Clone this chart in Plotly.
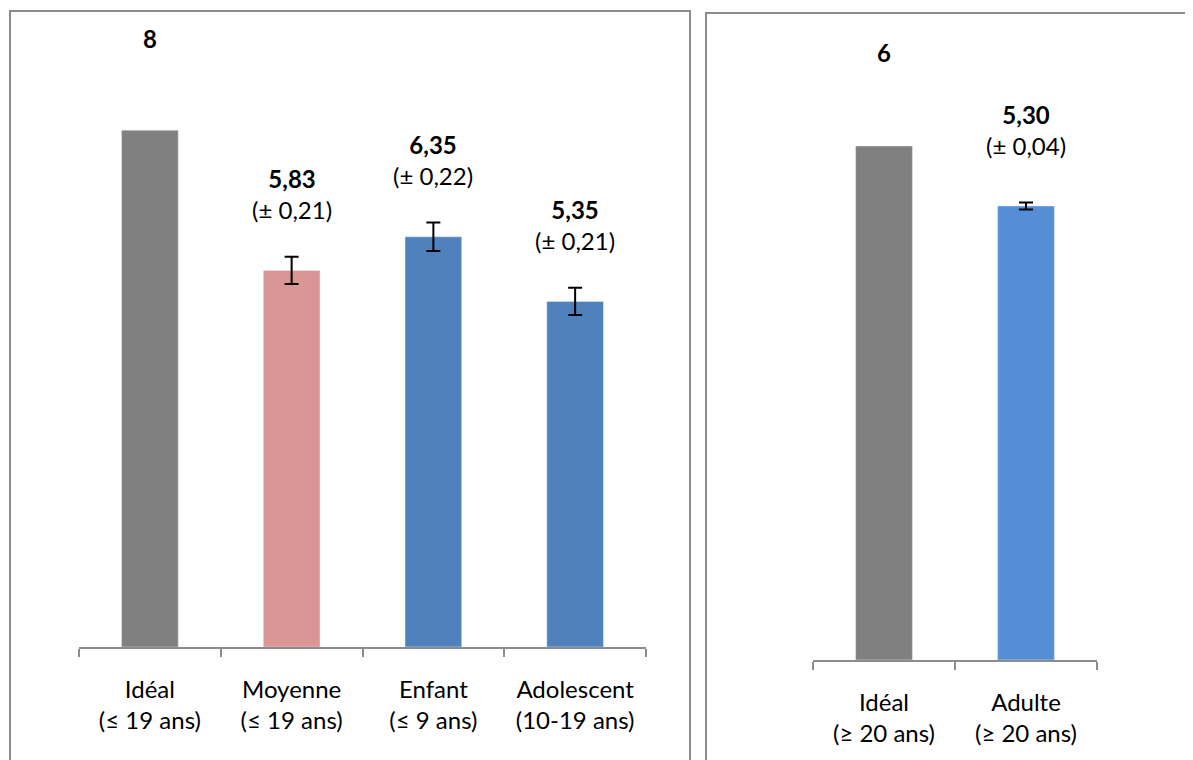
import plotly.graph_objects as go

# ---- data ----
left_categories = ["Idéal<br>(≤ 19 ans)", "Moyenne<br>(≤ 19 ans)", "Enfant<br>(≤ 9 ans)", "Adolescent<br>(10-19 ans)"]
left_values = [8, 5.83, 6.35, 5.35]
left_errors = [0, 0.21, 0.22, 0.21]
left_value_labels = ["8", "5,83", "6,35", "5,35"]
left_error_labels = ["", "(± 0,21)", "(± 0,22)", "(± 0,21)"]
left_colors = ["#808080", "#D99694", "#4F81BD", "#4F81BD"]

right_categories = ["Idéal<br>(≥ 20 ans)", "Adulte<br>(≥ 20 ans)"]
right_values = [6, 5.30]
right_errors = [0, 0.04]
right_value_labels = ["6", "5,30"]
right_error_labels = ["", "(± 0,04)"]
right_colors = ["#808080", "#558ED5"]

FONT = "Lato"
W, H = 1193, 760
OFF = 8  # page body margin: figure origin sits at (8, 8) in the page

def px_x(p):
    return (p - OFF) / W

def px_y(p):
    return (H - (p - OFF)) / H

fig = go.Figure()

def add_bars(cats, vals, errs, colors, xa, ya):
    for c, v, e, col in zip(cats, vals, errs, colors):
        err = dict(type="data", array=[e], color="black", thickness=2, width=7, visible=e > 0)
        fig.add_trace(go.Bar(
            x=[c], y=[v], marker_color=col, width=0.40, error_y=err,
            xaxis=xa, yaxis=ya, showlegend=False,
        ))

add_bars(left_categories, left_values, left_errors, left_colors, "x", "y")
add_bars(right_categories, right_values, right_errors, right_colors, "x2", "y2")

annotations = []
def add_labels(cats, vals, errs, vlabels, elabels, yref, shift_single, shift_double):
    for c, v, e, vl, el in zip(cats, vals, errs, vlabels, elabels):
        if el:
            txt = f"<b>{vl}</b><br>{el}"
            ys = shift_double
        else:
            txt = f"<b>{vl}</b>"
            ys = shift_single
        annotations.append(dict(
            x=c, y=v + e, xref=yref.replace("y", "x"), yref=yref, text=txt,
            showarrow=False, yanchor="middle", xanchor="center", yshift=ys,
            font=dict(family=FONT, size=24, color="black"),
        ))

add_labels(left_categories, left_values, left_errors, left_value_labels, left_error_labels, "y", 92, 63)
add_labels(right_categories, right_values, right_errors, right_value_labels, right_error_labels, "y2", 93, 73)

axis_common = dict(
    showline=True, linecolor="#8C8C8C", linewidth=2,
    ticks="outside", tickson="boundaries", ticklen=8, tickwidth=2, tickcolor="#8C8C8C",
    showgrid=False, zeroline=False, fixedrange=True, ticklabelstandoff=20,
    tickfont=dict(family=FONT, size=24, color="black"),
)

base_l, base_r = 647, 660
fig.update_layout(
    width=W, height=H,
    margin=dict(l=0, r=0, t=0, b=0),
    paper_bgcolor="white", plot_bgcolor="white",
    barmode="overlay",
    xaxis=dict(domain=[px_x(79), px_x(646)], range=[-0.5, 3.5], anchor="y", **axis_common),
    yaxis=dict(domain=[px_y(base_l), 1], range=[0, (base_l - OFF) / 64.6], visible=False, fixedrange=True),
    xaxis2=dict(domain=[px_x(813), px_x(1097)], range=[-0.5, 1.5], anchor="y2", **axis_common),
    yaxis2=dict(domain=[px_y(base_r), 1], range=[0, (base_r - OFF) / 85.67], visible=False, fixedrange=True),
    annotations=annotations,
    shapes=[
        dict(type="rect", xref="paper", yref="paper",
             x0=px_x(10), x1=px_x(690), y0=-0.05, y1=px_y(11),
             line=dict(color="#8C8C8C", width=2), fillcolor="rgba(0,0,0,0)", layer="below"),
        dict(type="rect", xref="paper", yref="paper",
             x0=px_x(706), x1=1.05, y0=-0.05, y1=px_y(13),
             line=dict(color="#8C8C8C", width=2), fillcolor="rgba(0,0,0,0)", layer="below"),
    ],
)

fig.write_html("out.html")
